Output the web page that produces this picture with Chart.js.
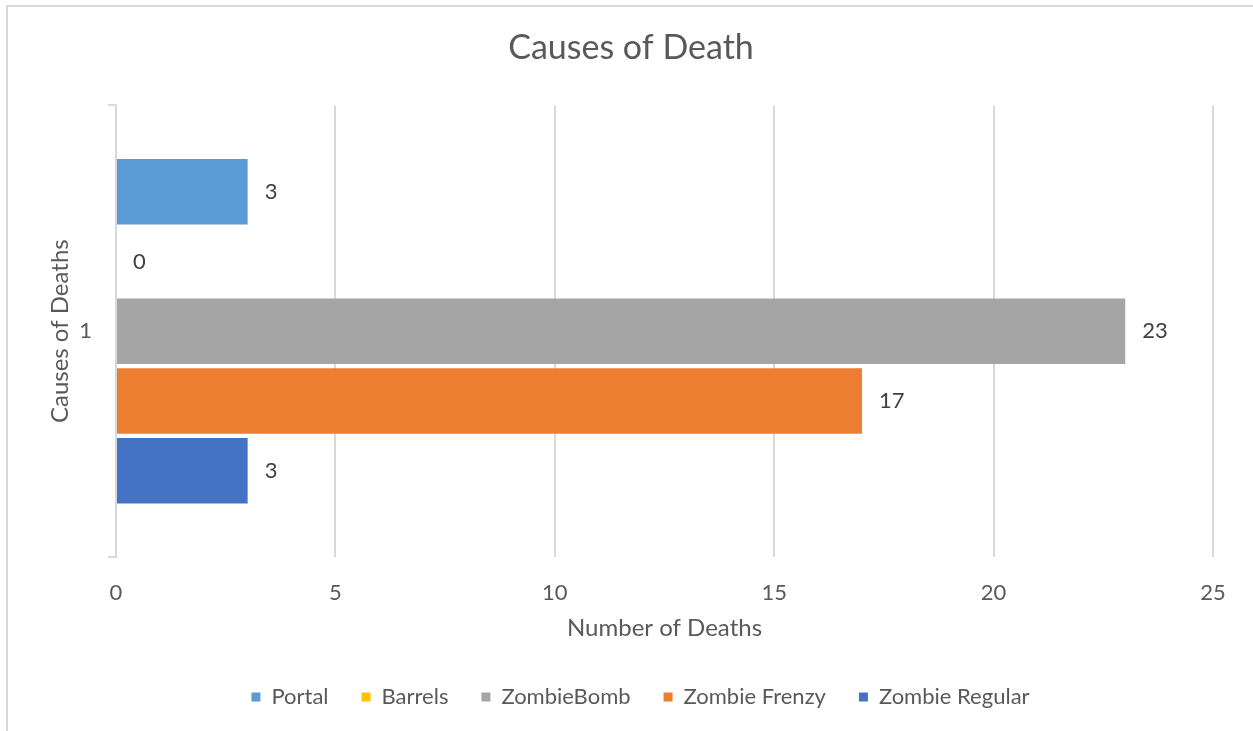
<!DOCTYPE html>
<html><head><meta charset="utf-8">
<script src="https://cdn.jsdelivr.net/npm/chart.js@4.4.0/dist/chart.umd.min.js"></script>
<style>
html,body{margin:0;padding:0;background:#fff;overflow:hidden}
#wrap{position:relative;width:1253px;height:731px}
#frame{position:absolute;left:6px;top:5px;width:1400px;height:900px;border-left:2px solid #d9d9d9;border-top:2px solid #d9d9d9;pointer-events:none}
canvas{position:absolute;left:0;top:0}
</style></head><body>
<div id="wrap"><canvas id="c" width="1253" height="731"></canvas><div id="frame"></div></div>
<script>
const categories = ['1'];
const seriesNames = ['Portal', 'Barrels', 'ZombieBomb', 'Zombie Frenzy', 'Zombie Regular'];
const portal = [3];
const barrels = [0];
const zombieBomb = [23];
const zombieFrenzy = [17];
const zombieRegular = [3];
const seriesColors = ['#5B9BD5', '#FFC000', '#A5A5A5', '#ED7D31', '#4472C4'];
const xMin = 0, xMax = 25, xStep = 5;

const seriesValues = [portal, barrels, zombieBomb, zombieFrenzy, zombieRegular];
const FONT = 'Lato';
const TEXT = '#595959';
const GRID = '#d9d9d9';

const dataLabels = {
  id: 'dataLabels',
  afterDatasetsDraw(chart) {
    const ctx = chart.ctx;
    ctx.save();
    ctx.font = '22px ' + FONT;
    ctx.fillStyle = '#404040';
    ctx.textAlign = 'left';
    ctx.textBaseline = 'middle';
    chart.data.datasets.forEach((ds, i) => {
      const meta = chart.getDatasetMeta(i);
      meta.data.forEach((el, j) => {
        ctx.fillText(String(ds.data[j]), el.x + 17, el.y);
      });
    });
    ctx.restore();
  }
};

const shiftBlocks = {
  id: 'shiftBlocks',
  afterLayout(chart) {
    if (chart.titleBlock) chart.titleBlock.left = 49;
    if (chart.legend) chart.legend.left = 68;
  }
};

function build() {
  new Chart(document.getElementById('c'), {
    type: 'bar',
    data: {
      labels: categories,
      datasets: seriesNames.map((name, i) => ({
        label: name,
        data: seriesValues[i],
        backgroundColor: seriesColors[i],
        borderWidth: 0,
        categoryPercentage: 0.772,
        barPercentage: 0.94
      }))
    },
    options: {
      indexAxis: 'y',
      responsive: false,
      animation: false,
      devicePixelRatio: 1,
      layout: { padding: { left: 0, right: 40, top: 0, bottom: 13 } },
      plugins: {
        title: {
          display: true,
          text: 'Causes of Death',
          color: TEXT,
          font: { family: FONT, size: 34, weight: 'normal', lineHeight: 1.2 },
          padding: { top: 27.6, bottom: 37 }
        },
        legend: {
          position: 'bottom',
          labels: {
            color: TEXT,
            font: { family: FONT, size: 22 },
            boxWidth: 9,
            boxHeight: 9,
            padding: 33
          }
        },
        tooltip: { enabled: false }
      },
      scales: {
        x: {
          min: xMin, max: xMax,
          ticks: { stepSize: xStep, color: TEXT, font: { family: FONT, size: 22 }, padding: 23 },
          grid: { color: GRID, lineWidth: 2, drawTicks: false },
          border: { display: false },
          title: {
            display: true, text: 'Number of Deaths', color: TEXT,
            font: { family: FONT, size: 24, lineHeight: 1.2 },
            padding: { top: 0, bottom: 10.6 }
          },
          afterFit(scale) { scale.height = 96; }
        },
        y: {
          ticks: { color: TEXT, font: { family: FONT, size: 22 }, padding: 16 },
          grid: { color: GRID, lineWidth: 2, drawOnChartArea: false, drawTicks: true, tickLength: 8, offset: true },
          border: { display: true, color: GRID, width: 2 },
          title: {
            display: true, text: 'Causes of Deaths', color: TEXT,
            font: { family: FONT, size: 24, lineHeight: 1.2 },
            padding: { top: 45.6, bottom: 0 }
          },
          afterFit(scale) { scale.width = 116; }
        }
      }
    },
    plugins: [dataLabels, shiftBlocks]
  });
}
if (document.fonts && document.fonts.load) {
  Promise.all([document.fonts.load('22px Lato'), document.fonts.load('34px Lato')]).then(build, build);
} else build();
</script>
</body></html>
